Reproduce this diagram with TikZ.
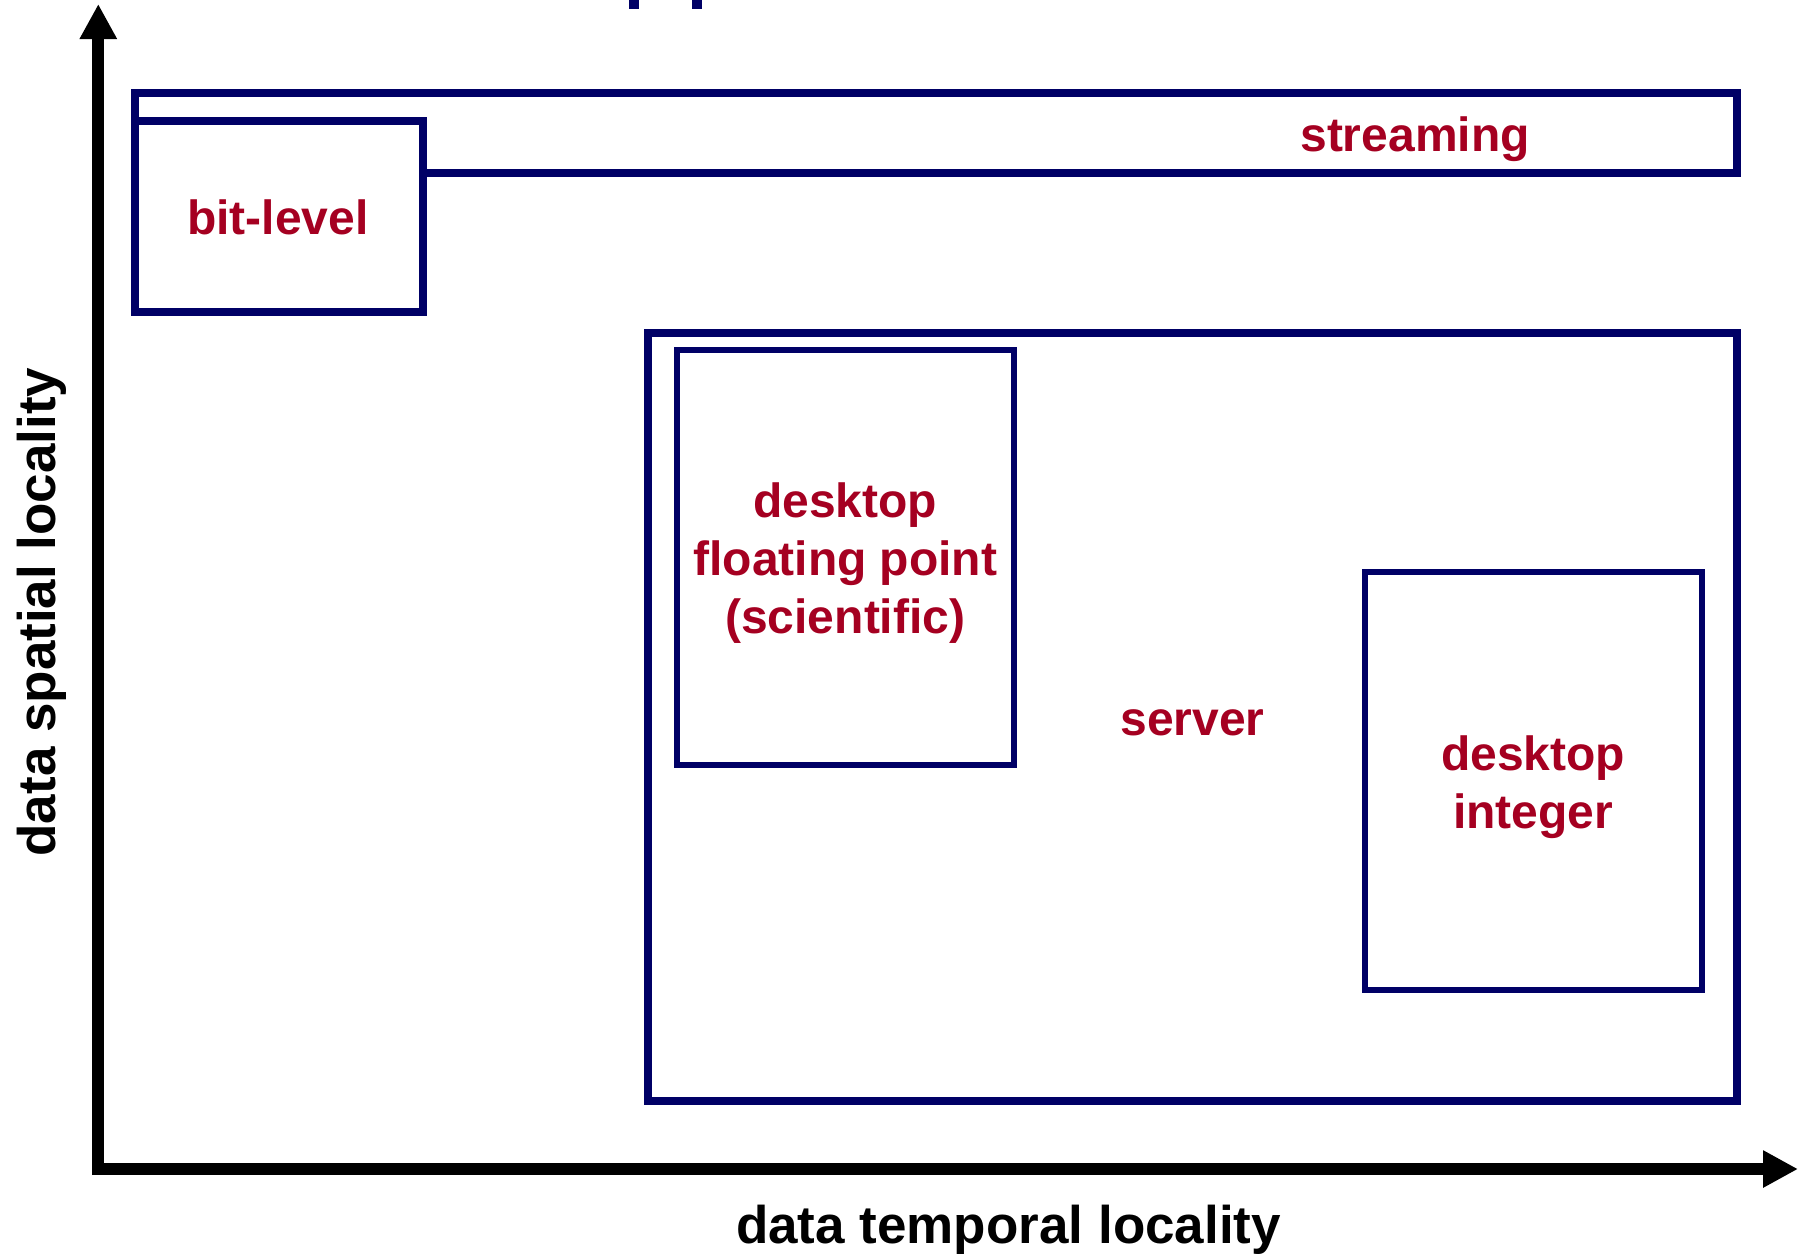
\documentclass[tikz,border=0pt]{standalone}
\usepackage{fontspec}
\setmainfont{Liberation Sans}
\usetikzlibrary{arrows.meta}
\definecolor{boxblue}{RGB}{0,0,102}
\definecolor{labelred}{RGB}{165,0,33}
\tikzset{
  axis/.style={line width=12pt, black, -{Triangle[length=35pt,width=35pt]}},
  region/.style={draw=boxblue, line width=8pt, fill=white},
  subregion/.style={draw=boxblue, line width=6pt, fill=white},
  axislabel/.style={font=\bfseries\fontsize{53}{60}\selectfont, anchor=base, inner sep=0pt},
  kind/.style={font=\bfseries\fontsize{48}{58}\selectfont, text=labelred, anchor=base, align=center, inner sep=0pt}
}
\begin{document}
\begin{tikzpicture}[x=1pt, y=-1pt]
  \useasboundingbox (0,0) rectangle (1801,1254);
  % descenders of the heading above the frame
  \fill[boxblue] (629,0) rectangle (639,9);
  \fill[boxblue] (692,0) rectangle (702,9);

  % application regions
  \draw[region] (135,93.3) rectangle (1736.7,173.3);
  \draw[region] (135,121) rectangle (422.7,312);
  \draw[region] (648,333) rectangle (1736.5,1101);
  \draw[subregion] (677,349.5) rectangle (1013.7,765.3);
  \draw[subregion] (1365,572) rectangle (1701.7,989.5);

  % axes
  \coordinate (origin) at (98.3,1175);
  \coordinate (ytip) at (98.3,4);
  \coordinate (xstart) at (92.3,1169);
  \coordinate (xtip) at (1798,1169);
  \draw[axis] (origin) -- (ytip);
  \draw[axis] (xstart) -- (xtip);

  \node[axislabel] (xlabel) at (1008.5,1243) {data temporal locality};
  \node[axislabel, rotate=90] (ylabel) at (55,612) {data spatial locality};

  % region labels (multi-line labels are placed by their last baseline)
  \node[kind] (streaming) at (1415,151) {streaming};
  \node[kind] (bitlevel) at (278,234.5) {bit-level};
  \node[kind] (fp) at (845.3,633) {desktop\\floating point\\(scientific)};
  \node[kind] (server) at (1192.5,735.5) {server};
  \node[kind] (integer) at (1533,828) {desktop\\integer};
\end{tikzpicture}
\end{document}
